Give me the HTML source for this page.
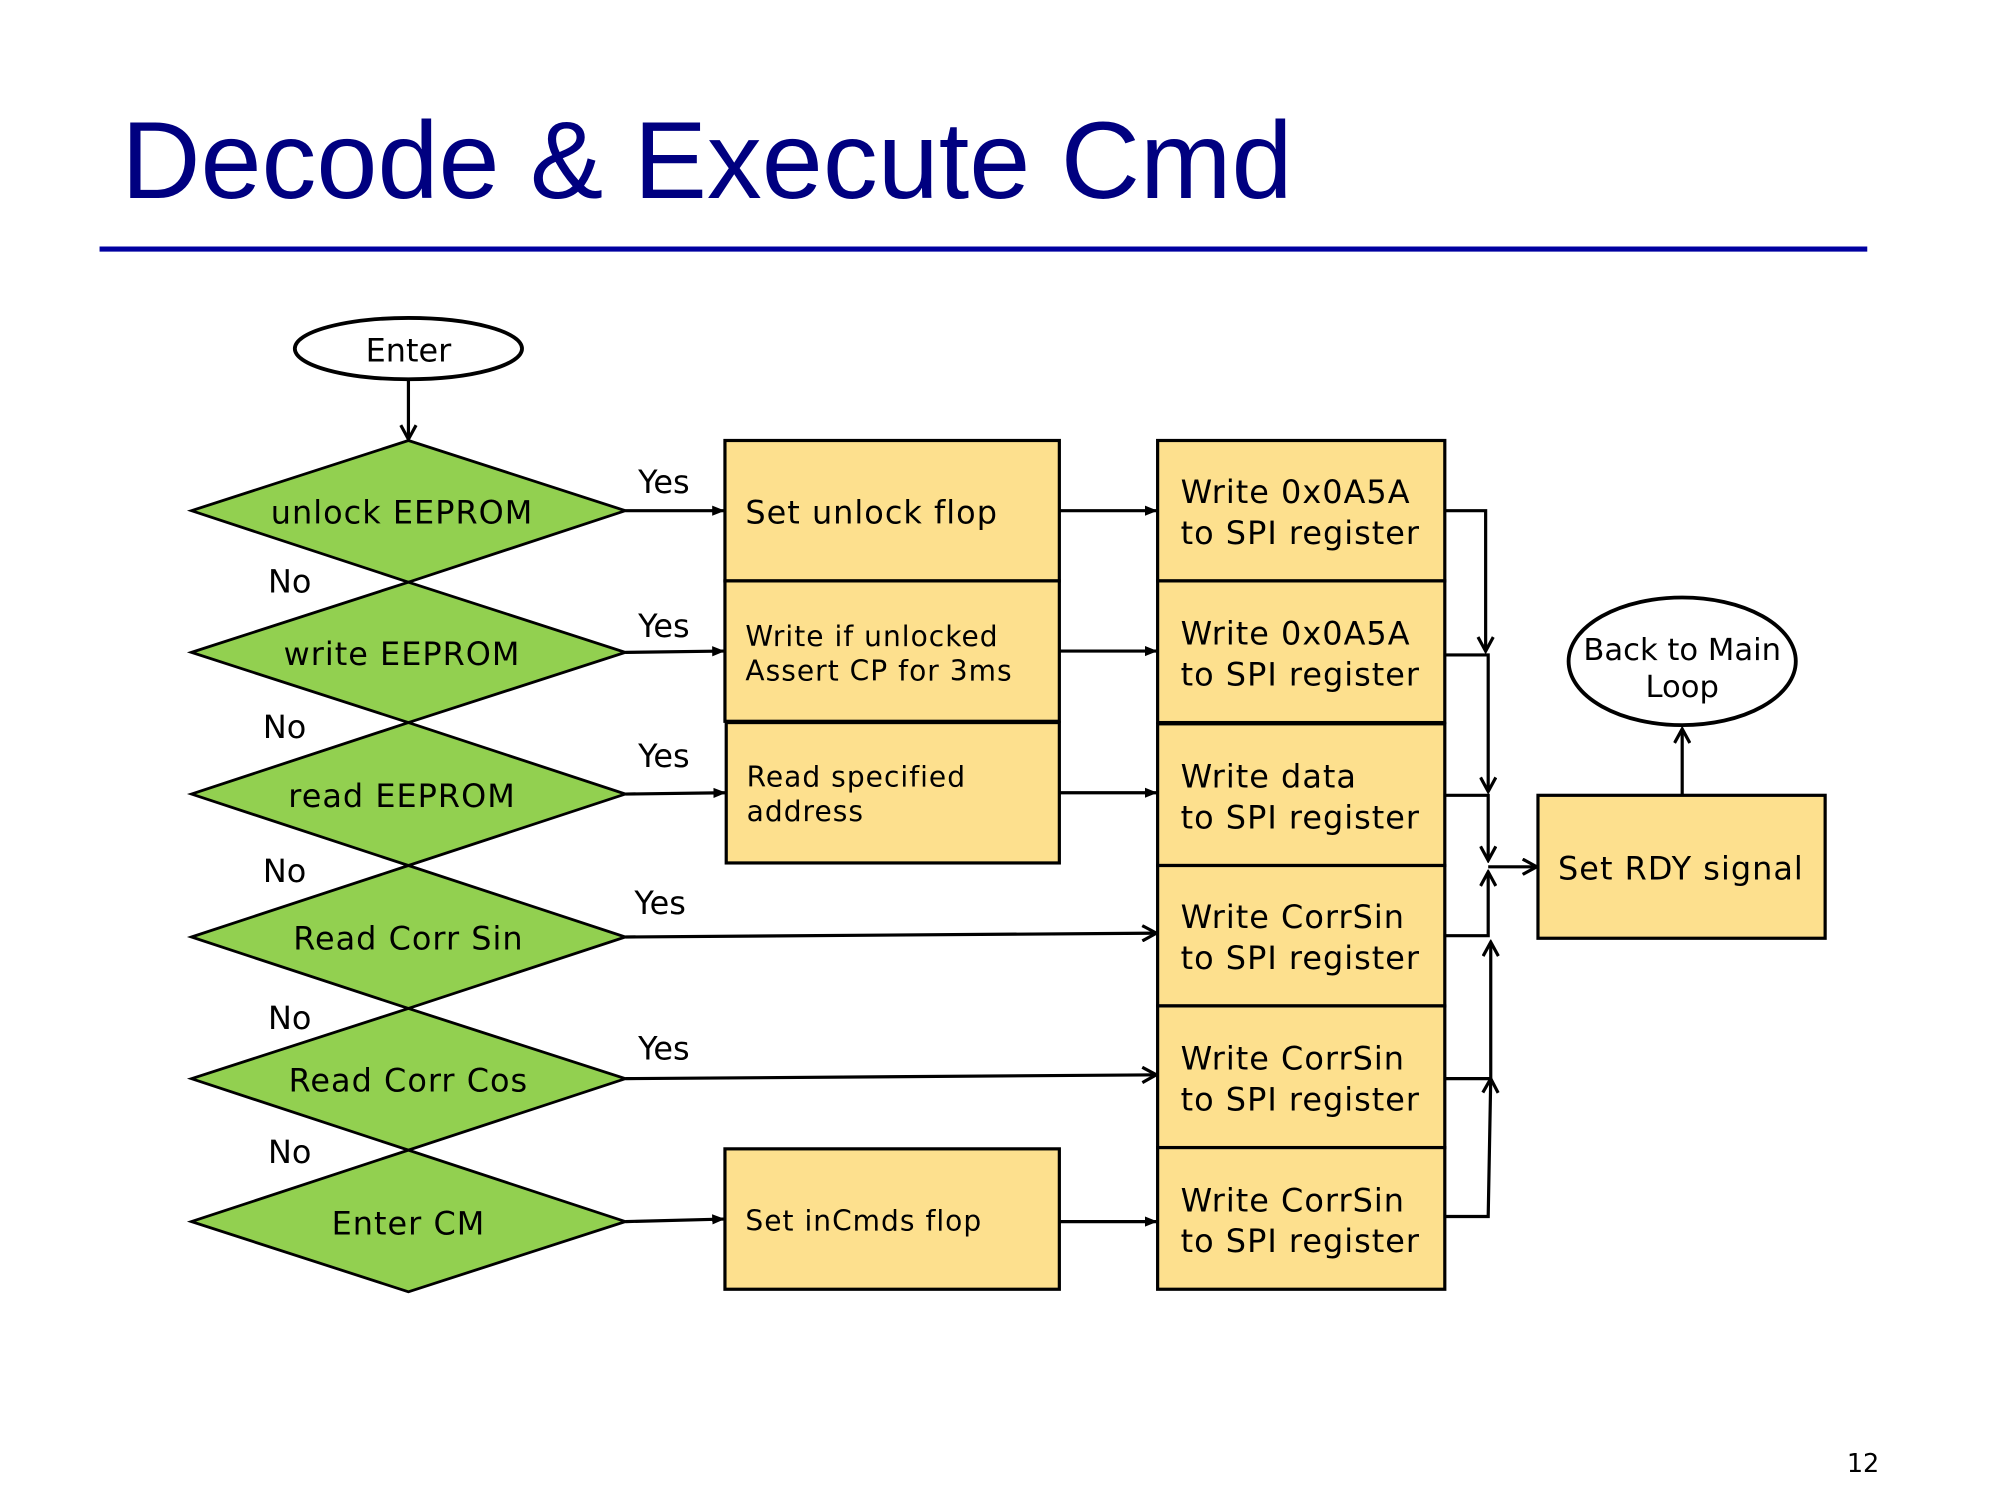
<!DOCTYPE html>
<html><head><meta charset="utf-8"><style>
html,body{margin:0;padding:0;background:#fff;}
svg{display:block;}
text{font-family:"DejaVu Sans","Liberation Sans",sans-serif;}
.w{letter-spacing:0.8px;}
</style></head><body>
<svg width="2000" height="1500" viewBox="0 0 1567 1175" xmlns="http://www.w3.org/2000/svg">
<defs>
<marker id="a" markerWidth="10" markerHeight="10" refX="9" refY="5" orient="auto" markerUnits="userSpaceOnUse"><path d="M0,1 L10,5 L0,9 Z" fill="#000"/></marker>
<marker id="o" markerWidth="14" markerHeight="14" refX="12" refY="7" orient="auto" markerUnits="userSpaceOnUse"><path d="M1,1 L12,7 L1,13" fill="none" stroke="#000" stroke-width="2.5"/></marker>
</defs>
<text x="95" y="155" font-size="86" fill="#000080" style="font-family:'Liberation Sans',sans-serif">Decode &amp; Execute Cmd</text>
<line x1="78" y1="195" x2="1463" y2="195" stroke="#0000a0" stroke-width="4"/>

<ellipse cx="320" cy="273" rx="89" ry="24" fill="#fff" stroke="#000" stroke-width="3"/>
<text x="320" y="283" font-size="25" text-anchor="middle">Enter</text>
<line x1="320" y1="297" x2="320" y2="344" stroke="#000" stroke-width="2.5" marker-end="url(#o)"/>

<g stroke="#000" stroke-width="2.2" fill="#92d050">
<polygon points="150,400 320,345 490,400 320,456"/>
<polygon points="150,511 320,456 490,511 320,566"/>
<polygon points="150,622 320,566 490,622 320,678"/>
<polygon points="150,734 320,678 490,734 320,790"/>
<polygon points="150,845 320,790 490,845 320,901"/>
<polygon points="150,957 320,901 490,957 320,1012"/>
</g>
<g font-size="25" text-anchor="middle" class="w">
<text x="315" y="410">unlock EEPROM</text>
<text x="315" y="521">write EEPROM</text>
<text x="315" y="632">read EEPROM</text>
<text x="320" y="744">Read Corr Sin</text>
<text x="320" y="855">Read Corr Cos</text>
<text x="320" y="967">Enter CM</text>
</g>
<g font-size="25">
<text x="500" y="386">Yes</text><text x="500" y="499">Yes</text><text x="500" y="601">Yes</text>
<text x="497" y="716">Yes</text><text x="500" y="830">Yes</text>
<text x="210" y="464">No</text><text x="206" y="578">No</text><text x="206" y="691">No</text>
<text x="210" y="806">No</text><text x="210" y="911">No</text>
</g>

<g stroke="#000" stroke-width="2.5" fill="#fde08e">
<rect x="568" y="345" width="262" height="110"/>
<rect x="568" y="455" width="262" height="110"/>
<rect x="569" y="566" width="261" height="110"/>
<rect x="568" y="900" width="262" height="110"/>
<rect x="907" y="345" width="225" height="110"/>
<rect x="907" y="455" width="225" height="111"/>
<rect x="907" y="567" width="225" height="111"/>
<rect x="907" y="678" width="225" height="110"/>
<rect x="907" y="788" width="225" height="111"/>
<rect x="907" y="899" width="225" height="111"/>
<rect x="1205" y="623" width="225" height="112"/>
</g>
<g font-size="25" class="w">
<text x="584" y="410">Set unlock flop</text>
<text x="584" y="506" font-size="22">Write if unlocked</text>
<text x="584" y="533" font-size="22">Assert CP for 3ms</text>
<text x="585" y="616" font-size="22">Read specified</text>
<text x="585" y="643" font-size="22">address</text>
<text x="584" y="964" font-size="22">Set inCmds flop</text>
<text x="925" y="394">Write 0x0A5A</text><text x="925" y="426">to SPI register</text>
<text x="925" y="505">Write 0x0A5A</text><text x="925" y="537">to SPI register</text>
<text x="925" y="617">Write data</text><text x="925" y="649">to SPI register</text>
<text x="925" y="727">Write CorrSin</text><text x="925" y="759">to SPI register</text>
<text x="925" y="838">Write CorrSin</text><text x="925" y="870">to SPI register</text>
<text x="925" y="949">Write CorrSin</text><text x="925" y="981">to SPI register</text>
<text x="1317" y="689" text-anchor="middle">Set RDY signal</text>
</g>

<g stroke="#000" stroke-width="2.5" fill="none">
<line x1="490" y1="400" x2="567" y2="400" marker-end="url(#a)"/>
<line x1="490" y1="511" x2="567" y2="510" marker-end="url(#a)"/>
<line x1="490" y1="622" x2="568" y2="621" marker-end="url(#a)"/>
<line x1="490" y1="957" x2="567" y2="955" marker-end="url(#a)"/>
<line x1="830" y1="400" x2="906" y2="400" marker-end="url(#a)"/>
<line x1="830" y1="510" x2="906" y2="510" marker-end="url(#a)"/>
<line x1="830" y1="621" x2="906" y2="621" marker-end="url(#a)"/>
<line x1="830" y1="957" x2="906" y2="957" marker-end="url(#a)"/>
<line x1="490" y1="734" x2="906" y2="731" marker-end="url(#o)"/>
<line x1="490" y1="845" x2="906" y2="842" marker-end="url(#o)"/>

<polyline points="1132,400 1164,400 1164,510" marker-end="url(#o)"/>
<polyline points="1132,513 1166,513 1166,620" marker-end="url(#o)"/>
<polyline points="1132,623 1166,623 1166,674" marker-end="url(#o)"/>
<polyline points="1132,733 1166,733 1166,683" marker-end="url(#o)"/>
<polyline points="1132,845 1168,845 1168,738" marker-end="url(#o)"/>
<polyline points="1132,953 1166,953 1168,845" marker-end="url(#o)"/>
<line x1="1166" y1="679" x2="1204" y2="679" marker-end="url(#o)"/>
<line x1="1318" y1="623" x2="1318" y2="571" marker-end="url(#o)"/>
</g>

<ellipse cx="1318" cy="518" rx="89" ry="50" fill="#fff" stroke="#000" stroke-width="3"/>
<text x="1318" y="517" font-size="24" text-anchor="middle">Back to Main</text>
<text x="1318" y="546" font-size="24" text-anchor="middle">Loop</text>

<text x="1447" y="1153" font-size="20">12</text>
</svg>
</body></html>
